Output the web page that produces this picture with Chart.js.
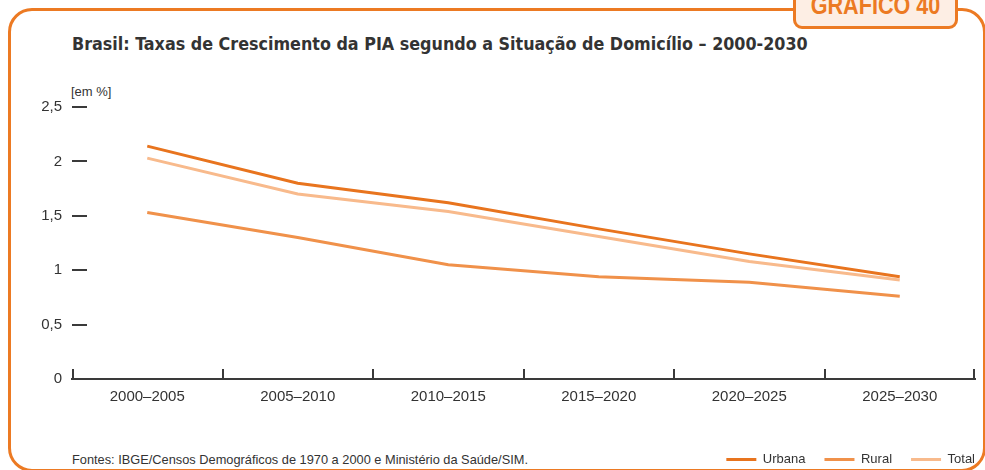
<!DOCTYPE html>
<html lang="pt-BR">
<head>
<meta charset="utf-8">
<title>Gráfico 40</title>
<script src="https://cdn.jsdelivr.net/npm/chart.js@4.4.0/dist/chart.umd.min.js"></script>
<style>
  html, body { margin: 0; padding: 0; background: #fff; overflow: hidden; }
  #wrap { position: relative; width: 985px; height: 470px; overflow: hidden; }
  #frame {
    position: absolute; left: 8px; top: 8px; width: 978px; height: 464px;
    box-sizing: border-box; border: 3px solid #EC7A23; border-radius: 24px;
  }
  #badge {
    position: absolute; left: 793px; top: -14px; width: 165px; height: 43px;
    box-sizing: border-box; border: 3px solid #EC7A23; border-radius: 9px;
    background: #FDEEE4; overflow: hidden;
  }
  #badge span {
    position: absolute; left: 0; right: 0; top: 3px; text-align: center;
    font: bold 26px "Liberation Sans", Arial, sans-serif; line-height: 26px; color: #EC7A23;
    transform: scaleX(0.83);
  }
  #title {
    position: absolute; left: 72px; top: 35px; white-space: nowrap;
    font: bold 17.75px "DejaVu Sans Condensed", sans-serif;
    line-height: 18px; color: #333;
  }
  #unit {
    position: absolute; left: 71px; top: 85px;
    font: 13px "Liberation Sans", Arial, sans-serif; line-height: 13px; color: #333;
  }
  #source {
    position: absolute; left: 72px; top: 453px; white-space: nowrap;
    font: 12.8px "Liberation Sans", Arial, sans-serif; line-height: 13px; color: #333;
  }
  canvas { position: absolute; left: 0; top: 0; }
</style>
</head>
<body>
<div id="wrap">
  <div id="frame"></div>
  <div id="badge"><span>GRÁFICO 40</span></div>
  <div id="title">Brasil: Taxas de Crescimento da PIA segundo a Situação de Domicílio – 2000-2030</div>
  <div id="unit">[em %]</div>
  <div id="source">Fontes: IBGE/Censos Demográficos de 1970 a 2000 e Ministério da Saúde/SIM.</div>
  <canvas id="myChart" width="994" height="476"></canvas>
</div>
<script>
// períodos quinquenais
const periods = ['2000–2005', '2005–2010', '2010–2015', '2015–2020', '2020–2025', '2025–2030'];

// taxas de crescimento (% a.a.)
const urbana = [2.14, 1.80, 1.62, 1.38, 1.15, 0.94];
const rural = [1.53, 1.30, 1.05, 0.94, 0.89, 0.76];
const total = [2.03, 1.70, 1.54, 1.31, 1.08, 0.91];

const yMax = 2.5;
const yStep = 0.5;

const axisColor = '#3a3a3a';
const textFont = '"Liberation Sans", Arial, sans-serif';
const legendGap = 19;

// tracinhos do eixo y (para dentro) e divisões do eixo x (para cima)
const tickMarks = {
  id: 'tickMarks',
  afterDraw(chart) {
    const {ctx, chartArea, scales: {x, y}} = chart;
    ctx.save();
    ctx.strokeStyle = axisColor;
    ctx.lineWidth = 2;
    ctx.beginPath();
    y.ticks.forEach(t => {
      if (t.value === 0) return;
      const py = Math.round(y.getPixelForValue(t.value));
      ctx.moveTo(chartArea.left, py);
      ctx.lineTo(chartArea.left + 15, py);
    });
    const step = (chartArea.right - chartArea.left) / periods.length;
    for (let i = 0; i <= periods.length; i++) {
      let px = Math.round(x.getPixelForValue(0) - step / 2 + i * step);
      if (i === 0) px += 1;
      if (i === periods.length) px -= 1;
      ctx.moveTo(px, chartArea.bottom);
      ctx.lineTo(px, chartArea.bottom - 10);
    }
    ctx.stroke();
    ctx.restore();
  }
};

const data = {
  labels: periods,
  datasets: [{
    label: 'Urbana',
    data: urbana,
    borderColor: '#E8741E',
    backgroundColor: '#E8741E',
    borderWidth: 3,
    pointRadius: 0,
    tension: 0
  }, {
    label: 'Rural',
    data: rural,
    borderColor: '#F0914A',
    backgroundColor: '#F0914A',
    borderWidth: 3,
    pointRadius: 0,
    tension: 0
  }, {
    label: 'Total',
    data: total,
    borderColor: '#F8BA8C',
    backgroundColor: '#F8BA8C',
    borderWidth: 3,
    pointRadius: 0,
    tension: 0
  }]
};

const config = {
  type: 'line',
  data: data,
  options: {
    responsive: false,
    animation: false,
    devicePixelRatio: 1,
    layout: { padding: { top: 107, right: 0, bottom: 0, left: 0 } },
    plugins: {
      tooltip: { enabled: false },
      legend: {
        position: 'bottom',
        align: 'end',
        labels: {
          boxWidth: 30,
          boxHeight: 3,
          padding: legendGap,
          color: '#333',
          font: { family: textFont, size: 13 },
          generateLabels(chart) {
            const items = Chart.defaults.plugins.legend.labels.generateLabels(chart);
            items.forEach(it => { it.lineWidth = 0; });
            return items;
          }
        }
      }
    },
    scales: {
      x: {
        offset: true,
        grid: { display: false, drawTicks: false },
        border: { display: true, color: axisColor, width: 2 },
        ticks: {
          padding: 9,
          color: '#333',
          font: { family: textFont, size: 15 },
          maxRotation: 0
        },
        afterFit(scale) { scale.height = 55; }
      },
      y: {
        min: 0,
        max: yMax,
        grid: { display: false, drawTicks: false },
        border: { display: false },
        ticks: {
          stepSize: yStep,
          padding: 10,
          color: '#333',
          font: { family: textFont, size: 15 },
          callback: v => String(v).replace('.', ',')
        },
        afterFit(scale) { scale.width = 72; }
      },
      // só reserva a margem direita da área do gráfico
      yRight: {
        position: 'right',
        display: true,
        grid: { display: false, drawTicks: false },
        border: { display: false },
        ticks: { display: false },
        afterFit(scale) { scale.width = legendGap; }
      }
    }
  },
  plugins: [tickMarks]
};

const myChart = new Chart(
  document.getElementById('myChart'),
  config
);
</script>
</body>
</html>
